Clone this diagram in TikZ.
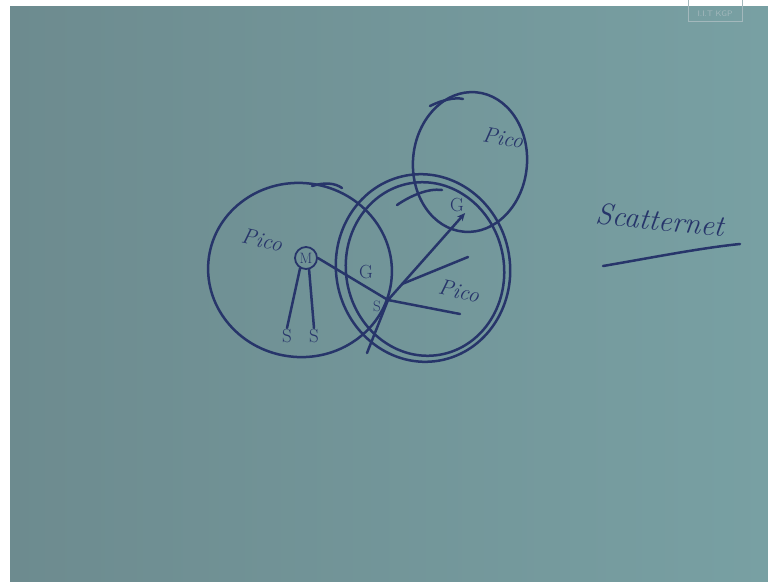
\documentclass[tikz,border=0pt]{standalone}
\usetikzlibrary{arrows.meta,shapes.geometric}
\definecolor{board}{HTML}{6D8B8F}
\definecolor{boardR}{HTML}{78A0A3}
\definecolor{ink}{HTML}{27356A}
\definecolor{stamp}{HTML}{A3B8BC}
\tikzset{
  pen/.style={draw=ink, line width=2.5pt, line cap=round, line join=round},
  hand/.style={text=ink, font=\itshape\fontsize{22}{22}\selectfont, inner sep=1pt},
  letter/.style={text=ink, font=\fontsize{19}{19}\selectfont, inner sep=1pt},
}
\begin{document}
\begin{tikzpicture}[x=1pt,y=-1pt]
\useasboundingbox (0,0) rectangle (768,581);
\fill[white] (0,0) rectangle (768,581);
\shade[left color=board, right color=boardR] (10,6) rectangle (768,581);
% stamp
\draw[stamp, line width=1pt] (688,-2) rectangle (742,21);
\node[text=stamp, font=\footnotesize\sffamily, inner sep=0pt] (stamptext) at (715,14) {I.I.T KGP};
% left pico cell
\draw[pen, rotate around={-8:(300,270)}] (300,270) ellipse [x radius=92, y radius=87];
\draw[pen] (312,186) .. controls (325,182) and (335,183) .. (342,188);
% big centre cell (double traced)
\draw[pen, rotate around={10:(423,268)}] (423,268) ellipse [x radius=87, y radius=94];
\draw[pen, rotate around={10:(425,269)}] (425,269) ellipse [x radius=79, y radius=87];
\draw[pen] (397,205) .. controls (410,196) and (428,188) .. (442,190);
% top pico cell
\draw[pen, rotate around={-5:(470,162)}] (470,162) ellipse [x radius=57, y radius=70];
\draw[pen] (430,106) .. controls (442,100) and (455,97) .. (463,99);
% labels
\node[hand, rotate=-12] (pico1) at (262,240) {Pico};
\node[hand, rotate=-10] (pico2) at (503,138) {Pico};
\node[hand, rotate=-12] (pico3) at (459,291) {Pico};
\node[hand, rotate=-6, font=\itshape\fontsize{30}{30}\selectfont] (scat) at (660,220) {Scatternet};
\coordinate (ulA) at (603,266);
\coordinate (ulB) at (740,244);
\draw[pen] (ulA) .. controls (650,258) and (700,248) .. (ulB);
% master
\node[letter, draw=ink, line width=1.8pt, circle, minimum size=22pt, inner sep=0pt, font=\fontsize{15}{15}\selectfont] (M) at (306,258) {M};
\node[letter] (S1) at (287,336) {S};
\node[letter] (S2) at (314,336) {S};
\draw[pen] (M.240) -- (S1.north);
\draw[pen] (M.285) -- (S2.north);
% gateway hub
\node[letter] (G1) at (366,272) {G};
\coordinate (hub) at (388,300);
\node[letter, font=\fontsize{15}{15}\selectfont] (sh) at (377,306) {S};
\node[letter] (G2) at (457,205) {G};
\draw[pen] (M.east) -- (hub);
\draw[pen, -{Stealth[length=8pt,width=7pt]}] (hub) -- (G2.south east);
\coordinate (e1) at (468,257);
\coordinate (e2) at (460,314);
\coordinate (e3) at (367,353);
\draw[pen] (402,284) -- (e1);
\draw[pen] (hub) -- (e2);
\draw[pen] (hub) -- (e3);
\end{tikzpicture}
\end{document}
